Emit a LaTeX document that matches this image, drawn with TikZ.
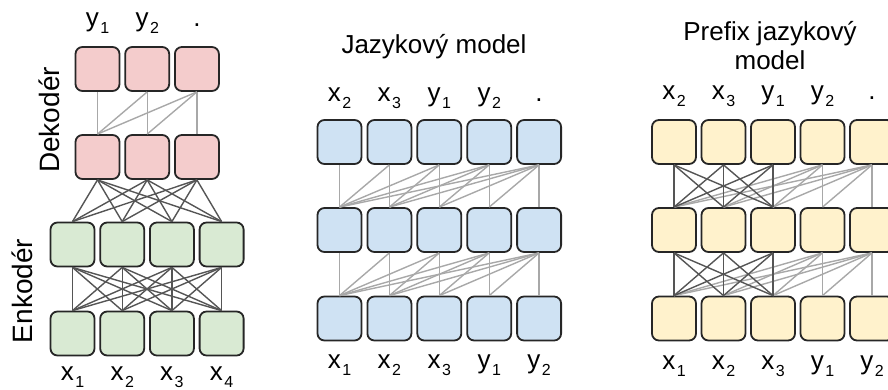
\documentclass[tikz,border=0pt]{standalone}
\usepackage{fontspec}
\setmainfont{Liberation Sans}
\usepackage{tikz}
\usetikzlibrary{positioning,calc}
\definecolor{cellRed}{HTML}{F4CCCC}
\definecolor{cellGreen}{HTML}{D9EAD3}
\definecolor{cellBlue}{HTML}{CFE2F3}
\definecolor{cellYellow}{HTML}{FFF2CC}
\definecolor{linkDark}{HTML}{555555}
\definecolor{linkLight}{HTML}{A8A8A8}
\newcommand{\tk}[2]{#1\kern1.5pt\raisebox{-7pt}{\fontsize{16}{16}\selectfont #2}}
\tikzset{
  cell/.style={
    draw=black!85,
    fill=#1,
    line width=1.8pt,
    rounded corners=7pt,
    minimum width=44pt,
    minimum height=44pt,
    inner sep=0pt
  },
  linkdark/.style={draw=linkDark, line width=1.4pt},
  linklight/.style={draw=linkLight, line width=1.4pt},
  tok/.style={font=\fontsize{26}{28}\selectfont, anchor=base, inner sep=0pt},
  panelname/.style={font=\fontsize{26}{29}\selectfont, align=center, inner sep=0pt}
}

\begin{document}
\begin{tikzpicture}[x=1pt, y=-1pt]
  \useasboundingbox (0,0) rectangle (888,390);

  % encoder / decoder
  \foreach \i in {1,...,4} {
    \node[cell=cellGreen] (enca\i) at ({72.5+49.7*(\i-1)},333.5) {};
    \node[cell=cellGreen] (encb\i) at ({72.5+49.7*(\i-1)},244.5) {};
  }
  \foreach \i in {1,...,3} {
    \node[cell=cellRed] (deca\i) at ({97.5+49.7*(\i-1)},157) {};
    \node[cell=cellRed] (decb\i) at ({97.5+49.7*(\i-1)},69) {};
  }
  \foreach \i in {1,...,4}
    \foreach \j in {1,...,4}
      \draw[linkdark] (enca\i.north) -- (encb\j.south);
  \foreach \i in {1,...,4}
    \foreach \j in {1,...,3}
      \draw[linkdark] (encb\i.north) -- (deca\j.south);
  \foreach \j in {1,...,3}
    \foreach \i in {1,...,\j}
      \draw[linklight] (deca\i.north) -- (decb\j.south);
  \node[panelname, rotate=90, font=\fontsize{28}{30}\selectfont] (declabel) at (49,120) {Dekodér};
  \node[panelname, rotate=90, font=\fontsize{28}{30}\selectfont] (enclabel) at (22,291) {Enkodér};
  \foreach \t [count=\i] in {\tk{y}{1},\tk{y}{2},.}
    \node[tok] at ({97.5+49.7*(\i-1)},27) {\t};
  \foreach \t [count=\i] in {\tk{x}{1},\tk{x}{2},\tk{x}{3},\tk{x}{4}}
    \node[tok] at ({72.5+49.7*(\i-1)},380.5) {\t};

  % language model
  \foreach \r/\y in {a/318.5,b/230,c/142}
    \foreach \i in {1,...,5}
      \node[cell=cellBlue] (lm\r\i) at ({339.5+49.9*(\i-1)},\y) {};
  \foreach \lo/\up in {a/b,b/c}
    \foreach \j in {1,...,5}
      \foreach \i in {1,...,\j}
        \draw[linklight] (lm\lo\i.north) -- (lm\up\j.south);
  \node[panelname] (lmname) at (434,47) {Jazykový model};
  \foreach \t [count=\i] in {\tk{x}{2},\tk{x}{3},\tk{y}{1},\tk{y}{2},.}
    \node[tok] at ({339.5+49.9*(\i-1)},102) {\t};
  \foreach \t [count=\i] in {\tk{x}{1},\tk{x}{2},\tk{x}{3},\tk{y}{1},\tk{y}{2}}
    \node[tok] at ({339.5+49.9*(\i-1)},368) {\t};

  % prefix language model
  \foreach \r/\y in {a/318.5,b/230,c/142}
    \foreach \i in {1,...,5}
      \node[cell=cellYellow] (plm\r\i) at ({674+49.5*(\i-1)},\y) {};
  \foreach \lo/\up in {a/b,b/c} {
    \foreach \j in {4,5}
      \foreach \i in {1,...,\j}
        \draw[linklight] (plm\lo\i.north) -- (plm\up\j.south);
    \foreach \j in {1,...,3}
      \foreach \i in {1,...,3}
        \draw[linkdark] (plm\lo\i.north) -- (plm\up\j.south);
  }
  \node[panelname] (plmname) at (770,46) {Prefix jazykový\\model};
  \foreach \t [count=\i] in {\tk{x}{2},\tk{x}{3},\tk{y}{1},\tk{y}{2},.}
    \node[tok] at ({674+49.5*(\i-1)},100) {\t};
  \foreach \t [count=\i] in {\tk{x}{1},\tk{x}{2},\tk{x}{3},\tk{y}{1},\tk{y}{2}}
    \node[tok] at ({674+49.5*(\i-1)},369) {\t};
\end{tikzpicture}
\end{document}
